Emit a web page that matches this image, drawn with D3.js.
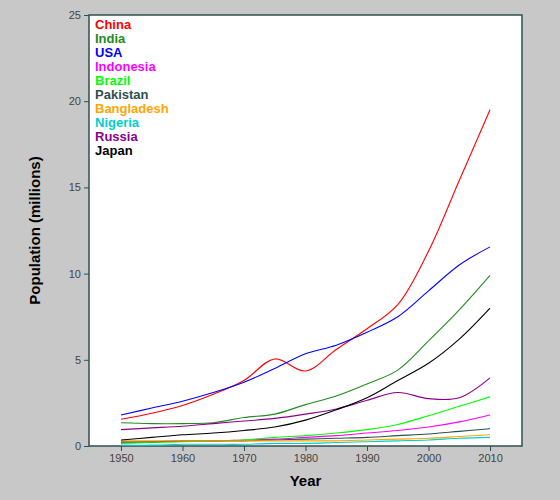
<!DOCTYPE html>
<html><head><meta charset="utf-8">
<script src="https://cdn.jsdelivr.net/npm/d3@7"></script>
<style>body{margin:0;background:#c8c8c8;font-family:"Liberation Sans",Arial,sans-serif;}</style>
</head><body><div id="chart"></div>
<script>
var years = [1950,1955,1960,1965,1970,1975,1980,1985,1990,1995,2000,2005,2010];
var countries = ["China","India","USA","Indonesia","Brazil","Pakistan","Bangladesh","Nigeria","Russia","Japan"];
var colors = ["#ff0000","#228b22","#0000ff","#ff00ff","#00ff00","#2f4f4f","#ffa500","#00ced1","#8b008b","#000000"];
var china = [1.55,1.9,2.35,3.0,3.8,5.05,4.35,5.6,6.8,8.2,11.3,15.4,19.5];
var india = [1.35,1.3,1.3,1.35,1.65,1.85,2.4,2.9,3.6,4.4,6.1,7.9,9.9];
var usa = [1.8,2.2,2.6,3.1,3.7,4.5,5.35,5.85,6.6,7.5,9.0,10.5,11.55];
var indonesia = [0.2,0.25,0.3,0.3,0.35,0.4,0.5,0.6,0.75,0.9,1.1,1.4,1.8];
var brazil = [0.15,0.2,0.25,0.3,0.35,0.5,0.6,0.75,0.95,1.25,1.75,2.3,2.85];
var pakistan = [0.25,0.25,0.3,0.3,0.3,0.35,0.4,0.45,0.5,0.6,0.7,0.85,1.0];
var bangladesh = [0.3,0.3,0.3,0.3,0.3,0.3,0.3,0.3,0.35,0.4,0.45,0.55,0.65];
var nigeria = [0.05,0.05,0.1,0.1,0.1,0.15,0.15,0.2,0.25,0.3,0.35,0.45,0.5];
var russia = [0.95,1.05,1.15,1.3,1.45,1.6,1.85,2.15,2.65,3.1,2.75,2.8,3.95];
var japan = [0.35,0.5,0.65,0.75,0.9,1.1,1.5,2.1,2.8,3.8,4.8,6.2,8.0];
var series = [china,india,usa,indonesia,brazil,pakistan,bangladesh,nigeria,russia,japan];
var xTicks = [1950,1960,1970,1980,1990,2000,2010];
var yTicks = [0,5,10,15,20,25];

var margin = {top: 15, right: 38, bottom: 54, left: 89},
    width = 560 - margin.left - margin.right,
    height = 500 - margin.top - margin.bottom;

var svg = d3.select("#chart").append("svg")
    .attr("width", 560).attr("height", 500)
  .append("g")
    .attr("transform", "translate(" + margin.left + "," + margin.top + ")");

var x = d3.scaleLinear().domain([1944.8, 2015.2]).range([0, width]);
var y = d3.scaleLinear().domain([0, 25]).range([height, 0]);

svg.append("rect").attr("width", width).attr("height", height)
  .attr("fill", "#fff").attr("stroke", "#2f4f4f").attr("stroke-width", 1.5);

var xa = svg.append("g").attr("transform", "translate(0," + height + ")")
  .call(d3.axisBottom(x).tickValues(xTicks).tickFormat(d3.format("d")).tickSizeOuter(0).tickSize(5));
var ya = svg.append("g")
  .call(d3.axisLeft(y).tickValues(yTicks).tickSizeOuter(0).tickSize(5));
[xa, ya].forEach(function(a){
  a.select(".domain").remove();
  a.selectAll("line").attr("stroke", "#2f4f4f");
  a.selectAll("text").attr("fill", "#444").style("font-size", "11px").style("font-family", "Liberation Sans, Arial");
});

var line = d3.line()
  .x(function(d, i){ return x(years[i]); })
  .y(function(d){ return y(d); })
  .curve(d3.curveCatmullRom);

series.forEach(function(s, i){
  svg.append("path").datum(s).attr("d", line)
    .attr("fill", "none").attr("stroke", colors[i]).attr("stroke-width", 1.1);
});

svg.selectAll(".leg").data(countries).enter().append("text")
  .attr("x", 6).attr("y", function(d, i){ return 14 + i * 14; })
  .attr("fill", function(d, i){ return colors[i]; })
  .style("font-size", "13px").style("font-weight", "bold")
  .text(function(d){ return d; });

svg.append("text").attr("x", width / 2).attr("y", height + 40)
  .attr("text-anchor", "middle").style("font-size", "15px").style("font-weight", "bold").text("Year");
svg.append("text").attr("transform", "translate(-49," + (height / 2) + ")rotate(-90)")
  .attr("text-anchor", "middle").style("font-size", "15px").style("font-weight", "bold").text("Population (millions)");
</script></body></html>
